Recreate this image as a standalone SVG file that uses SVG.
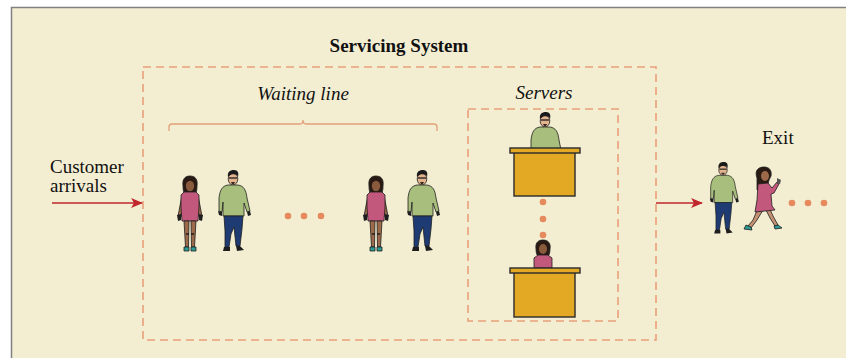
<svg xmlns="http://www.w3.org/2000/svg" xmlns:xlink="http://www.w3.org/1999/xlink" width="846" height="358" viewBox="0 0 846 358">
  <style>
    .dash { fill: none; stroke: #E9A07A; stroke-width: 1.6; stroke-dasharray: 8 5; }
    .brace { fill: none; stroke: #E3A07A; stroke-width: 1.3; }
    .flow { fill: none; stroke: #C0272D; stroke-width: 1.6; }
    .title { font-family: "Liberation Serif", serif; font-weight: bold; font-size: 19px; fill: #111; }
    .ital { font-family: "Liberation Serif", serif; font-style: italic; font-size: 19px; fill: #111; }
    .lbl { font-family: "Liberation Serif", serif; font-size: 19px; fill: #111; }
    .desk { fill: #E3A924; stroke: #2a2a2a; stroke-width: 1.4; }
    .dot { fill: #E58A5C; }
    .ol { stroke: #1e1e1e; stroke-width: 0.8; stroke-linejoin: round; }
  </style>
  <defs>
    <marker id="ah" viewBox="0 0 12 10" refX="11" refY="5" markerWidth="12" markerHeight="10" markerUnits="userSpaceOnUse" orient="auto">
      <path d="M0 0 L12 5 L0 10 L3 5 Z" fill="#C0272D"/>
    </marker>
    <!-- standing woman, origin at top of head -->
    <g id="woman">
      <path class="ol" d="M-7 9 C-8 1 -4 -1 0 -1 C5 -1 8 2 7 9 C7 14 6 17 4 18 L-4 18 C-6 17 -7 14 -7 9 Z" fill="#2a1a14"/>
      <ellipse cx="0" cy="9" rx="4.2" ry="5.2" fill="#8a5a3c"/>
      <path class="ol" d="M-8 18 L-11 34 L-12 39 L-9 40 L-7 33 Z" fill="#9C6A4A"/>
      <path class="ol" d="M8 18 L11 34 L12 39 L9 40 L7 33 Z" fill="#9C6A4A"/>
      <path class="ol" d="M-6 15 L6 15 L9 18 L9 30 L8 44 L-8 44 L-9 30 L-9 18 Z" fill="#C2587C"/>
      <path class="ol" d="M-6 44 L-1 44 L-1.5 70 L-4.5 70 Z M1 44 L6 44 L4.5 70 L1.5 70 Z" fill="#9C6A4A"/>
      <path d="M-4 57 L-1 57 M1 57 L4 57" stroke="#1e1e1e" stroke-width="1.5"/>
      <path d="M-13 38 L-9 37 L-9 43 L-12 44 Z M13 38 L9 37 L9 43 L12 44 Z" fill="#1e1e1e"/>
      <path class="ol" d="M-6 70 L-1 70 L-1 74 L-6 74 Z M1 70 L6 70 L6 74 L1 74 Z" fill="#2E9A94"/>
    </g>
    <!-- walking man, origin at top of head -->
    <g id="man">
      <ellipse cx="0" cy="8" rx="4.8" ry="6" fill="#E2B48E" class="ol"/>
      <path d="M-5 6 C-6 0 -2 -1 1 -1 C5 -1 6 2 5 6 L4 4 C1 3 -2 3 -4 5 Z" fill="#1b1b1b"/>
      <path d="M-4 7 L4 7" stroke="#1b1b1b" stroke-width="1.3"/>
      <path d="M-2 11 L2 11 L1 13 L-1 13 Z" fill="#3a2a22"/>
      <path class="ol" d="M-5 14 C-11 15 -13 19 -14 27 L-14 40 L-11 41 L-10 31 L-10 45 L11 45 L11 32 L14 41 L17 40 L14 27 C13 19 11 15 5 14 Z" fill="#A8BE7C"/>
      <path class="ol" d="M-9 45 L10 45 L9 58 L7 75 L3 75 L1 56 L-2 63 L-4 76 L-8 76 L-8 60 Z" fill="#1F3B73"/>
      <path d="M-15 40 L-11 41 L-11 45 L-14 44 Z M17 40 L14 41 L15 45 L18 44 Z" fill="#1e1e1e"/>
      <path d="M-9 76 L-3 76 L-3 80 L-10 80 Z M3 75 L7 75 L11 79 L4 80 Z" fill="#1e1e1e"/>
    </g>
    <!-- walking woman seen from the side, origin at top of head -->
    <g id="walker">
      <path class="ol" d="M-6 10 C-9 2 -4 -1 1 -1 C6 -1 9 2 8 8 L6 12 L4 20 L-6 22 Z" fill="#2a1a14"/>
      <ellipse cx="2" cy="8" rx="4" ry="5" fill="#9C6A4A"/>
      <path class="ol" d="M-5 40 L-10 52 L-15 58 L-12 60 L-6 52 L0 42 Z" fill="#C49272"/>
      <path class="ol" d="M2 40 L7 50 L12 58 L15 57 L10 48 L6 39 Z" fill="#C49272"/>
      <path class="ol" d="M-5 16 L5 15 L9 20 L14 14 L16 16 L11 25 L8 26 L9 38 L12 42 L-8 44 L-6 32 Z" fill="#C2587C"/>
      <path d="M14 10 L18 12 L17 16 L14 16 Z" fill="#555"/>
      <path class="ol" d="M-17 57 L-12 59 L-11 62 L-19 61 Z M11 58 L15 57 L19 60 L12 61 Z" fill="#2E9A94"/>
    </g>
    <!-- server at a desk -->
    <g id="serverman">
      <ellipse cx="0" cy="8" rx="4.8" ry="6" fill="#E2B48E" class="ol"/>
      <path d="M-5 6 C-6 0 -2 -1 1 -1 C5 -1 6 2 5 6 L4 4 C1 3 -2 3 -4 5 Z" fill="#1b1b1b"/>
      <path d="M-4 7 L4 7" stroke="#1b1b1b" stroke-width="1.3"/>
      <path d="M-2 11 L2 11 L1 13 L-1 13 Z" fill="#3a2a22"/>
      <path class="ol" d="M-5 14 C-11 15 -13 19 -14 27 L-14 37 L16 37 L14 27 C13 19 11 15 5 14 Z" fill="#A8BE7C"/>
    </g>
    <g id="serverwoman">
      <path class="ol" d="M-7 8 C-8 1 -4 -1 0 -1 C5 -1 8 2 7 8 C7 12 6 15 4 16 L-4 16 C-6 15 -7 12 -7 8 Z" fill="#2a1a14"/>
      <ellipse cx="0" cy="8" rx="4" ry="5" fill="#8a5a3c"/>
      <path class="ol" d="M-5 14 L5 14 L9 17 L9 27 L-9 27 L-9 17 Z" fill="#C2587C"/>
    </g>
  </defs>

  <!-- page frame -->
  <rect x="0" y="0" width="846" height="358" fill="#FFFFFF"/>
  <rect x="11" y="7" width="835" height="351" fill="#F3EED2"/>
  <path d="M11.5 358 L11.5 7.5 L846 7.5" fill="none" stroke="#808080" stroke-width="1.5"/>

  <!-- labels -->
  <text class="title" x="399" y="52" text-anchor="middle">Servicing System</text>
  <text class="ital" x="303" y="100" text-anchor="middle">Waiting line</text>
  <text class="ital" x="544" y="99" text-anchor="middle">Servers</text>
  <text class="lbl" x="50" y="173">Customer</text>
  <text class="lbl" x="50" y="192">arrivals</text>
  <text class="lbl" x="762" y="144">Exit</text>

  <!-- system boundaries -->
  <rect class="dash" x="143" y="67" width="513" height="273"/>
  <rect class="dash" x="468" y="109" width="150" height="212"/>
  <path class="brace" d="M169 131 L169 127 Q169 124 172 124 L300 124 Q303 124 303 120 Q303 124 306 124 L434 124 Q437 124 437 127 L437 131"/>

  <!-- connectors -->
  <g id="connectors">
    <path class="flow" d="M52 203 L142 203" marker-end="url(#ah)"/>
    <path class="flow" d="M656 203 L702 203" marker-end="url(#ah)"/>
  </g>

  <!-- waiting line -->
  <g id="queue">
    <use xlink:href="#woman" x="190" y="177"/>
    <use xlink:href="#man" x="233" y="171"/>
    <circle class="dot" cx="288" cy="216" r="3.3"/>
    <circle class="dot" cx="304" cy="216" r="3.3"/>
    <circle class="dot" cx="321" cy="216" r="3.3"/>
    <use xlink:href="#woman" x="376" y="177"/>
    <use xlink:href="#man" x="422" y="171"/>
  </g>

  <!-- servers -->
  <g id="server1">
    <use xlink:href="#serverman" x="545" y="113"/>
    <rect class="desk" x="514" y="152" width="61" height="44"/>
    <rect class="desk" x="510" y="148" width="70" height="5"/>
  </g>
  <g id="server-dots">
    <circle class="dot" cx="543" cy="202" r="3.3"/>
    <circle class="dot" cx="543" cy="219" r="3.3"/>
    <circle class="dot" cx="543" cy="235" r="3.3"/>
  </g>
  <g id="server2">
    <use xlink:href="#serverwoman" x="543" y="241"/>
    <rect class="desk" x="514" y="272" width="61" height="45"/>
    <rect class="desk" x="510" y="268" width="70" height="5"/>
  </g>

  <!-- departures -->
  <g id="exit">
    <use xlink:href="#man" transform="translate(723 163) scale(0.88)"/>
    <use xlink:href="#walker" transform="translate(763 168)"/>
    <circle class="dot" cx="792" cy="203" r="3.3"/>
    <circle class="dot" cx="808" cy="203" r="3.3"/>
    <circle class="dot" cx="824" cy="203" r="3.3"/>
  </g>
</svg>
